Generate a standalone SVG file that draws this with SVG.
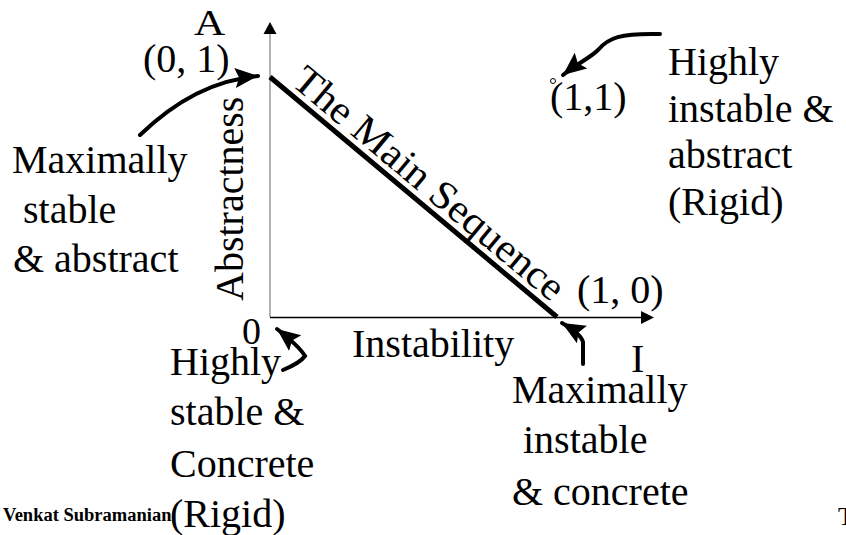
<svg xmlns="http://www.w3.org/2000/svg" width="846" height="535" viewBox="0 0 846 535">
<style>
.t{font-family:"Liberation Serif","Times New Roman",serif;font-size:40px;fill:#000}
.c{fill:none;stroke:#000;stroke-width:4;stroke-linecap:round}
</style>
<defs>
<marker id="ah" markerUnits="userSpaceOnUse" markerWidth="26" markerHeight="22" refX="23" refY="11" orient="auto">
<path d="M0,1 L23,11 L0,21 L4,11 Z" fill="#000"/>
</marker>
</defs>
<rect width="846" height="535" fill="#fff"/>
<g id="axes">
<line x1="270" y1="317" x2="270" y2="34" stroke="#999" stroke-width="1.5"/>
<path d="M263.5,34 L270,22 L276.5,34 Z" fill="#000"/>
<line x1="270" y1="317.5" x2="641" y2="317.5" stroke="#000" stroke-width="1.5"/>
<path d="M641,311 L654,317.5 L641,324 Z" fill="#000"/>
</g>
<g id="main-sequence">
<line x1="270" y1="77" x2="557" y2="317" stroke="#000" stroke-width="5"/>
<text class="t" transform="translate(290,84) rotate(39.9)" textLength="341" lengthAdjust="spacingAndGlyphs">The Main Sequence</text>
</g>
<g id="labels">
<text class="t" transform="translate(194,35) scale(1.2,1)" style="font-size:36px">A</text>
<text class="t" x="143" y="72">(0, 1)</text>
<text class="t" x="550" y="110">(1,1)</text>
<circle cx="553" cy="81" r="2.5" fill="#fff" stroke="#000" stroke-width="1"/>
<text class="t" transform="translate(243,301) rotate(-90)">Abstractness</text>
<text class="t" x="242" y="344" style="font-size:38px">0</text>
<text class="t" x="352" y="357">Instability</text>
<text class="t" x="577" y="303">(1, 0)</text>
<text class="t" x="631" y="372">I</text>
</g>
<g id="note-top-right">
<text class="t" x="668" y="75">Highly</text>
<text class="t" x="668" y="122">instable &amp;</text>
<text class="t" x="668" y="168">abstract</text>
<text class="t" x="668" y="215">(Rigid)</text>
</g>
<g id="note-left">
<text class="t" x="12" y="173">Maximally</text>
<text class="t" x="23" y="223">stable</text>
<text class="t" x="13" y="272">&amp; abstract</text>
</g>
<g id="note-bottom-left">
<text class="t" x="170" y="375">Highly</text>
<text class="t" x="170" y="425">stable &amp;</text>
<text class="t" x="170" y="477">Concrete</text>
<text class="t" x="170" y="527">(Rigid)</text>
</g>
<g id="note-bottom-right">
<text class="t" x="512" y="403">Maximally</text>
<text class="t" x="523" y="453">instable</text>
<text class="t" x="512" y="505">&amp; concrete</text>
</g>
<g id="footer">
<text x="3" y="521" style="font-family:'Liberation Serif','Times New Roman',serif;font-size:18.5px;font-weight:bold">Venkat Subramanian</text>
<text x="838" y="525" style="font-family:'Liberation Serif','Times New Roman',serif;font-size:26px">T</text>
</g>
<g id="connectors">
<path class="c" d="M140,135 C172,104 210,80 258,76" marker-end="url(#ah)"/>
<path class="c" d="M660,34 C620,33 608,38 598,50 C590,58 578,63 563,75" marker-end="url(#ah)"/>
<path class="c" d="M283,370 Q300,363 305,356 Q299,346 277,329" marker-end="url(#ah)"/>
<path class="c" d="M583,364 L583,342 Q581,334 562,323" marker-end="url(#ah)"/>
</g>
</svg>
